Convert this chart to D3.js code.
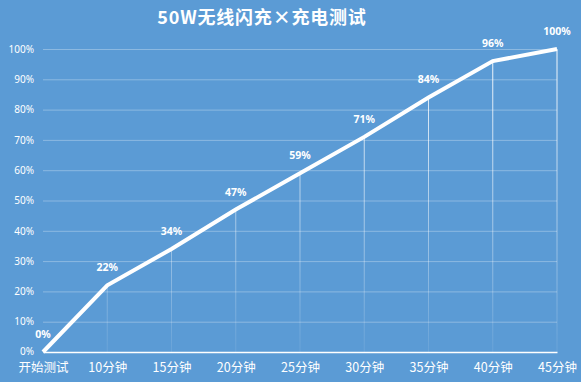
<!DOCTYPE html>
<html><head><meta charset="utf-8">
<script src="https://cdn.jsdelivr.net/npm/d3@7"></script>
<style>html,body{margin:0;padding:0;background:#5B9BD5;}svg{display:block;}</style>
</head><body><svg id="c" width="581" height="382"></svg>
<script>
const categories = ["开始测试","10分钟","15分钟","20分钟","25分钟","30分钟","35分钟","40分钟","45分钟"];
const values = [0,22,34,47,59,71,84,96,100];
const yTicks = [0,10,20,30,40,50,60,70,80,90,100];
const title = "50W无线闪充×充电测试";

const W=581,H=382;
const svg=d3.select("#c");
svg.append("rect").attr("width",W).attr("height",H).attr("fill","#5B9BD5");
const x=d3.scalePoint().domain(categories).range([43,557]).padding(0);
const y=d3.scaleLinear().domain([0,100]).range([352,49]);

const defs=svg.append("defs");
const g=defs.append("linearGradient").attr("id","fade").attr("gradientUnits","userSpaceOnUse")
 .attr("x1",0).attr("x2",0).attr("y1",y(100)).attr("y2",y(0));
g.append("stop").attr("offset",0).attr("stop-color","#fff").attr("stop-opacity",0.95);
g.append("stop").attr("offset",1).attr("stop-color","#fff").attr("stop-opacity",0.08);

svg.append("text").attr("x",262).attr("y",24).attr("text-anchor","middle")
 .attr("fill","#fff").attr("font-family","'Noto Sans CJK SC'").attr("font-weight","bold")
 .attr("font-size",18).attr("letter-spacing",0.8).text(title);

// gridlines
const yAxis=d3.axisLeft(y).tickValues(yTicks).tickFormat(d=>d+"%").tickSize(-(557-43)).tickPadding(9);
const ga=svg.append("g").attr("transform","translate(43,0)").call(yAxis);
ga.select(".domain").remove();
ga.selectAll(".tick line").attr("stroke","#fff").attr("stroke-opacity",0.3).attr("stroke-width",1);
ga.selectAll(".tick text").attr("fill","#fff").attr("font-family","'Noto Sans'").attr("font-size",10);
ga.selectAll(".tick").filter(d=>d===0).select("line").remove();
ga.selectAll(".tick").filter(d=>d===0).select("text").attr("dy","0.2em");

// drop lines
svg.selectAll("line.drop").data(values.slice(1)).join("line").attr("class","drop")
 .attr("x1",(d,i)=>x(categories[i+1])).attr("x2",(d,i)=>x(categories[i+1]))
 .attr("y1",d=>y(d)).attr("y2",y(0)).attr("stroke","url(#fade)").attr("stroke-width",1);

// x axis
const xAxis=d3.axisBottom(x).tickSize(0).tickPadding(11);
const gx=svg.append("g").attr("transform",`translate(0,${y(0)})`).call(xAxis);
gx.select(".domain").attr("stroke","#fff").attr("stroke-width",1.5);
gx.selectAll(".tick text").attr("fill","#fff").attr("font-family","'Noto Sans CJK SC'").attr("font-size",12.5);

// line
const line=d3.line().x((d,i)=>x(categories[i])).y(d=>y(d));
svg.append("path").datum(values).attr("d",line).attr("fill","none").attr("stroke","#fff")
 .attr("stroke-width",4).attr("stroke-linejoin","miter");

// labels
svg.selectAll("text.lbl").data(values).join("text").attr("class","lbl")
 .attr("x",(d,i)=>x(categories[i])).attr("y",d=>y(d)-14).attr("text-anchor","middle")
 .attr("fill","#fff").attr("font-family","'Noto Sans'").attr("font-weight","bold").attr("font-size",10.5)
 .text(d=>d+"%");
</script></body></html>
